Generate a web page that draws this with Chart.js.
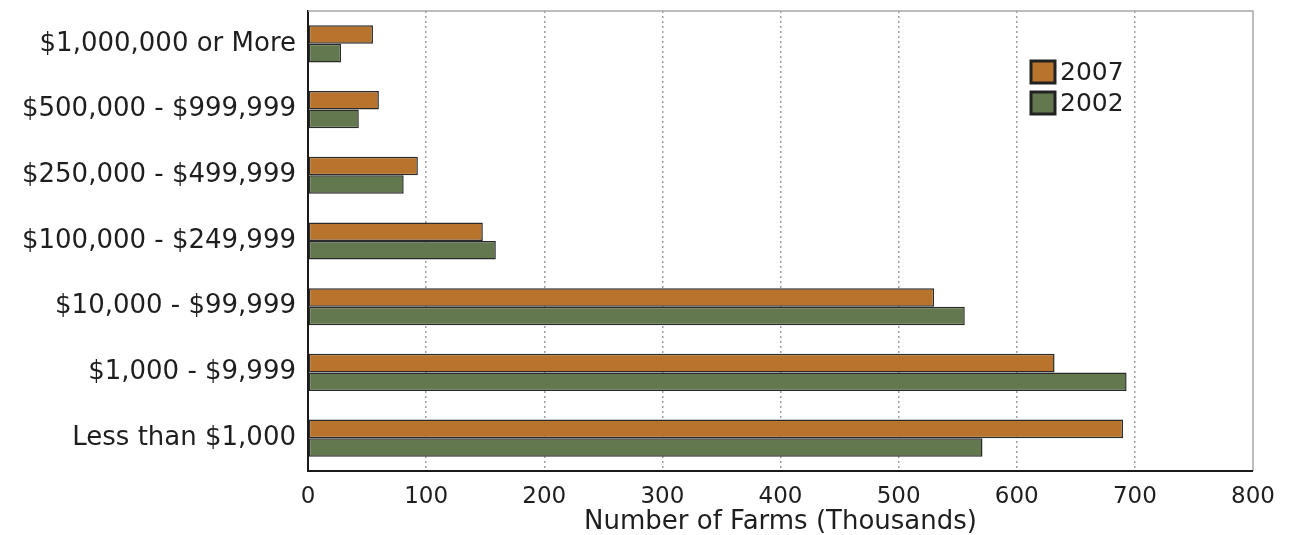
<!DOCTYPE html>
<html>
<head>
<meta charset="utf-8">
<script src="https://cdn.jsdelivr.net/npm/chart.js@4/dist/chart.umd.min.js"></script>
<style>
  html, body { margin: 0; padding: 0; background: #fff; }
  #caja { width: 1307px; height: 535px; }
</style>
</head>
<body>
<div id="caja"><canvas id="grafico"></canvas></div>
<script>
const categorias = [
    "$1,000,000 or More",
    "$500,000 - $999,999",
    "$250,000 - $499,999",
    "$100,000 - $249,999",
    "$10,000 - $99,999",
    "$1,000 - $9,999",
    "Less than $1,000"
];
const granjas2007 = [55, 60, 93, 148, 530, 632, 690];
const granjas2002 = [28, 43, 81, 159, 556, 693, 571];
const ticksX = [0, 100, 200, 300, 400, 500, 600, 700, 800];

const fuente = "'DejaVu Sans', 'Liberation Sans', Arial, sans-serif";
const colorTexto = "#1e1e1e";

// leyenda dentro del area de trazado y bordes superior/derecho grises
const extras = {
    id: "extras",
    beforeDatasetsDraw(chart) {
        const { ctx, chartArea } = chart;
        ctx.save();
        ctx.strokeStyle = "#a8a8a8";
        ctx.lineWidth = 1.5;
        ctx.setLineDash([]);
        ctx.beginPath();
        ctx.moveTo(chartArea.left, chartArea.top);
        ctx.lineTo(chartArea.right, chartArea.top);
        ctx.lineTo(chartArea.right, chartArea.bottom);
        ctx.stroke();
        // eje inferior solido
        ctx.strokeStyle = "#1a1a1a";
        ctx.lineWidth = 2;
        ctx.beginPath();
        ctx.moveTo(chartArea.left, chartArea.bottom);
        ctx.lineTo(chartArea.right, chartArea.bottom);
        ctx.stroke();
        ctx.restore();
    },
    afterDraw(chart) {
        const { ctx } = chart;
        ctx.save();
        ctx.font = "25px " + fuente;
        ctx.textBaseline = "middle";
        chart.data.datasets.forEach((ds, i) => {
            const x = 1031, y = 61 + i * 31;
            ctx.fillStyle = ds.backgroundColor;
            ctx.fillRect(x, y, 24, 22);
            ctx.strokeStyle = "#222";
            ctx.lineWidth = 3;
            ctx.strokeRect(x, y, 24, 22);
            ctx.fillStyle = colorTexto;
            ctx.fillText(ds.label, x + 29, y + 12);
        });
        ctx.restore();
    }
};

new Chart(document.getElementById("grafico"), {
    type: "bar",
    data: {
        labels: categorias,
        datasets: [
            {
                label: "2007",
                data: granjas2007,
                backgroundColor: "#b8742d",
                borderColor: "#2a2a2a",
                borderWidth: 1.5,
                borderSkipped: false,
                categoryPercentage: 0.565,
                barPercentage: 1.0
            },
            {
                label: "2002",
                data: granjas2002,
                backgroundColor: "#63784f",
                borderColor: "#2a2a2a",
                borderWidth: 1.5,
                borderSkipped: false,
                categoryPercentage: 0.565,
                barPercentage: 1.0
            }
        ]
    },
    options: {
        indexAxis: "y",
        responsive: true,
        maintainAspectRatio: false,
        animation: false,
        layout: { padding: { left: 0, right: 54, top: 11, bottom: 0 } },
        plugins: {
            legend: { display: false },
            tooltip: { enabled: false }
        },
        scales: {
            x: {
                min: 0,
                max: 800,
                afterBuildTicks: scale => {
                    scale.ticks = ticksX.map(v => ({ value: v }));
                },
                afterFit: scale => { scale.height = 64; },
                grid: {
                    drawTicks: false,
                    color: ctx => (ctx.tick && (ctx.tick.value === 0 || ctx.tick.value === 800)) ? "rgba(0,0,0,0)" : "#a0a0a0",
                    lineWidth: 1.5
                },
                border: { display: false, dash: [2, 3] },
                ticks: {
                    padding: 12,
                    color: colorTexto,
                    font: { family: fuente, size: 23 }
                },
                title: {
                    display: true,
                    text: "Number of Farms (Thousands)",
                    color: colorTexto,
                    font: { family: fuente, size: 26, lineHeight: 1 },
                    padding: { top: 0, bottom: 0 }
                }
            },
            y: {
                afterFit: scale => {
                    scale.width = 308;
                    scale.paddingTop = 0;
                    scale.paddingBottom = 0;
                },
                grid: { display: false, drawTicks: false },
                border: { display: true, color: "#1a1a1a", width: 2 },
                ticks: {
                    padding: 12,
                    color: colorTexto,
                    font: { family: fuente, size: 26 }
                }
            }
        }
    },
    plugins: [extras]
});
</script>
</body>
</html>
